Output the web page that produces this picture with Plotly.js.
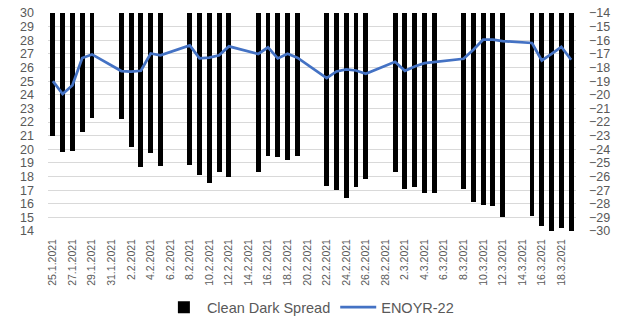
<!DOCTYPE html>
<html>
<head>
<meta charset="utf-8">
<script src="https://cdn.plot.ly/plotly-3.0.1.min.js"></script>
<style>html,body{margin:0;padding:0;background:#fff;}#chart{width:619px;height:316px;}</style>
</head>
<body>
<div id="chart"></div>
<script>
// Trading days (weekdays)
var dates = [
  '2021-01-25','2021-01-26','2021-01-27','2021-01-28','2021-01-29',
  '2021-02-01','2021-02-02','2021-02-03','2021-02-04','2021-02-05',
  '2021-02-08','2021-02-09','2021-02-10','2021-02-11','2021-02-12',
  '2021-02-15','2021-02-16','2021-02-17','2021-02-18','2021-02-19',
  '2021-02-22','2021-02-23','2021-02-24','2021-02-25','2021-02-26',
  '2021-03-01','2021-03-02','2021-03-03','2021-03-04','2021-03-05',
  '2021-03-08','2021-03-09','2021-03-10','2021-03-11','2021-03-12',
  '2021-03-15','2021-03-16','2021-03-17','2021-03-18','2021-03-19'
];
// Clean Dark Spread (right axis)
var cleanDarkSpread = [
  -23.0, -24.2, -24.1, -22.7, -21.7,
  -21.8, -23.8, -25.3, -24.3, -25.2,
  -25.15, -25.9, -26.5, -25.7, -26.0,
  -25.7, -24.5, -24.6, -24.8, -24.5,
  -26.7, -27.0, -27.6, -26.8, -26.2,
  -25.7, -26.9, -26.75, -27.2, -27.2,
  -26.9, -27.9, -28.1, -28.2, -29.0,
  -28.9, -29.6, -30.1, -29.8, -30.1
];
// ENOYR-22 (left axis)
var enoyr22 = [
  25.0, 24.05, 24.7, 26.7, 26.96,
  25.74, 25.7, 25.76, 27.03, 26.9,
  27.62, 26.67, 26.72, 26.9, 27.55,
  26.99, 27.48, 26.67, 27.01, 26.72,
  25.22, 25.71, 25.86, 25.78, 25.54,
  26.42, 25.76, 26.08, 26.32, 26.4,
  26.64, 27.3, 28.04, 28.04, 27.94,
  27.8, 26.52, 27.0, 27.52, 26.57
];
// x tick positions and labels
var tickDates = [
  '2021-01-25','2021-01-27','2021-01-29','2021-01-31','2021-02-02','2021-02-04',
  '2021-02-06','2021-02-08','2021-02-10','2021-02-12','2021-02-14','2021-02-16',
  '2021-02-18','2021-02-20','2021-02-22','2021-02-24','2021-02-26','2021-02-28',
  '2021-03-02','2021-03-04','2021-03-06','2021-03-08','2021-03-10','2021-03-12',
  '2021-03-14','2021-03-16','2021-03-18'
];
var tickLabels = [
  '25.1.2021','27.1.2021','29.1.2021','31.1.2021','2.2.2021','4.2.2021',
  '6.2.2021','8.2.2021','10.2.2021','12.2.2021','14.2.2021','16.2.2021',
  '18.2.2021','20.2.2021','22.2.2021','24.2.2021','26.2.2021','28.2.2021',
  '2.3.2021','4.3.2021','6.3.2021','8.3.2021','10.3.2021','12.3.2021',
  '14.3.2021','16.3.2021','18.3.2021'
];

var FONT = 'Liberation Sans, Arial, sans-serif';
var GREY = '#595959';

var traces = [
  {
    type: 'bar', name: 'Clean Dark Spread',
    x: dates, y: cleanDarkSpread, yaxis: 'y',
    width: 0.5 * 86400000,
    marker: {color: '#000000', line: {width: 0}},
    hoverinfo: 'x+y'
  },
  {
    type: 'scatter', mode: 'lines', name: 'ENOYR-22',
    x: dates, y: enoyr22, yaxis: 'y2',
    line: {color: '#4472C4', width: 2.75}
  }
];

var layout = {
  width: 619, height: 316,
  margin: {l: 48, r: 43, t: 13, b: 85, autoexpand: false},
  paper_bgcolor: '#ffffff', plot_bgcolor: '#ffffff',
  font: {family: FONT, color: GREY},
  showlegend: true,
  legend: {
    orientation: 'h', x: 0.496, xanchor: 'center', y: -0.35, yanchor: 'middle',
    font: {family: FONT, size: 14.5, color: GREY},
    traceorder: 'normal', itemwidth: 36
  },
  xaxis: {
    type: 'date',
    range: ['2021-01-24 12:00', '2021-03-19 12:00'],
    tickmode: 'array', tickvals: tickDates, ticktext: tickLabels,
    tickangle: -90, tickfont: {family: FONT, size: 10.5, color: GREY},
    ticklabelstandoff: 5,
    showgrid: false, zeroline: false, showline: false, ticks: ''
  },
  yaxis: {
    side: 'right', range: [-30, -14], dtick: 1, tick0: -30,
    showgrid: true, gridcolor: '#D9D9D9', gridwidth: 1,
    zeroline: false, showline: false, ticks: '',
    tickfont: {family: FONT, size: 12.5, color: GREY},
    ticklabelstandoff: 12
  },
  yaxis2: {
    side: 'left', overlaying: 'y', range: [14, 30], dtick: 1, tick0: 14,
    showgrid: false, zeroline: false, showline: false, ticks: '',
    tickfont: {family: FONT, size: 12.5, color: GREY},
    ticklabelstandoff: 13
  },
  bargap: 0
};

Plotly.newPlot('chart', traces, layout, {displayModeBar: false, staticPlot: true});
</script>
</body>
</html>
